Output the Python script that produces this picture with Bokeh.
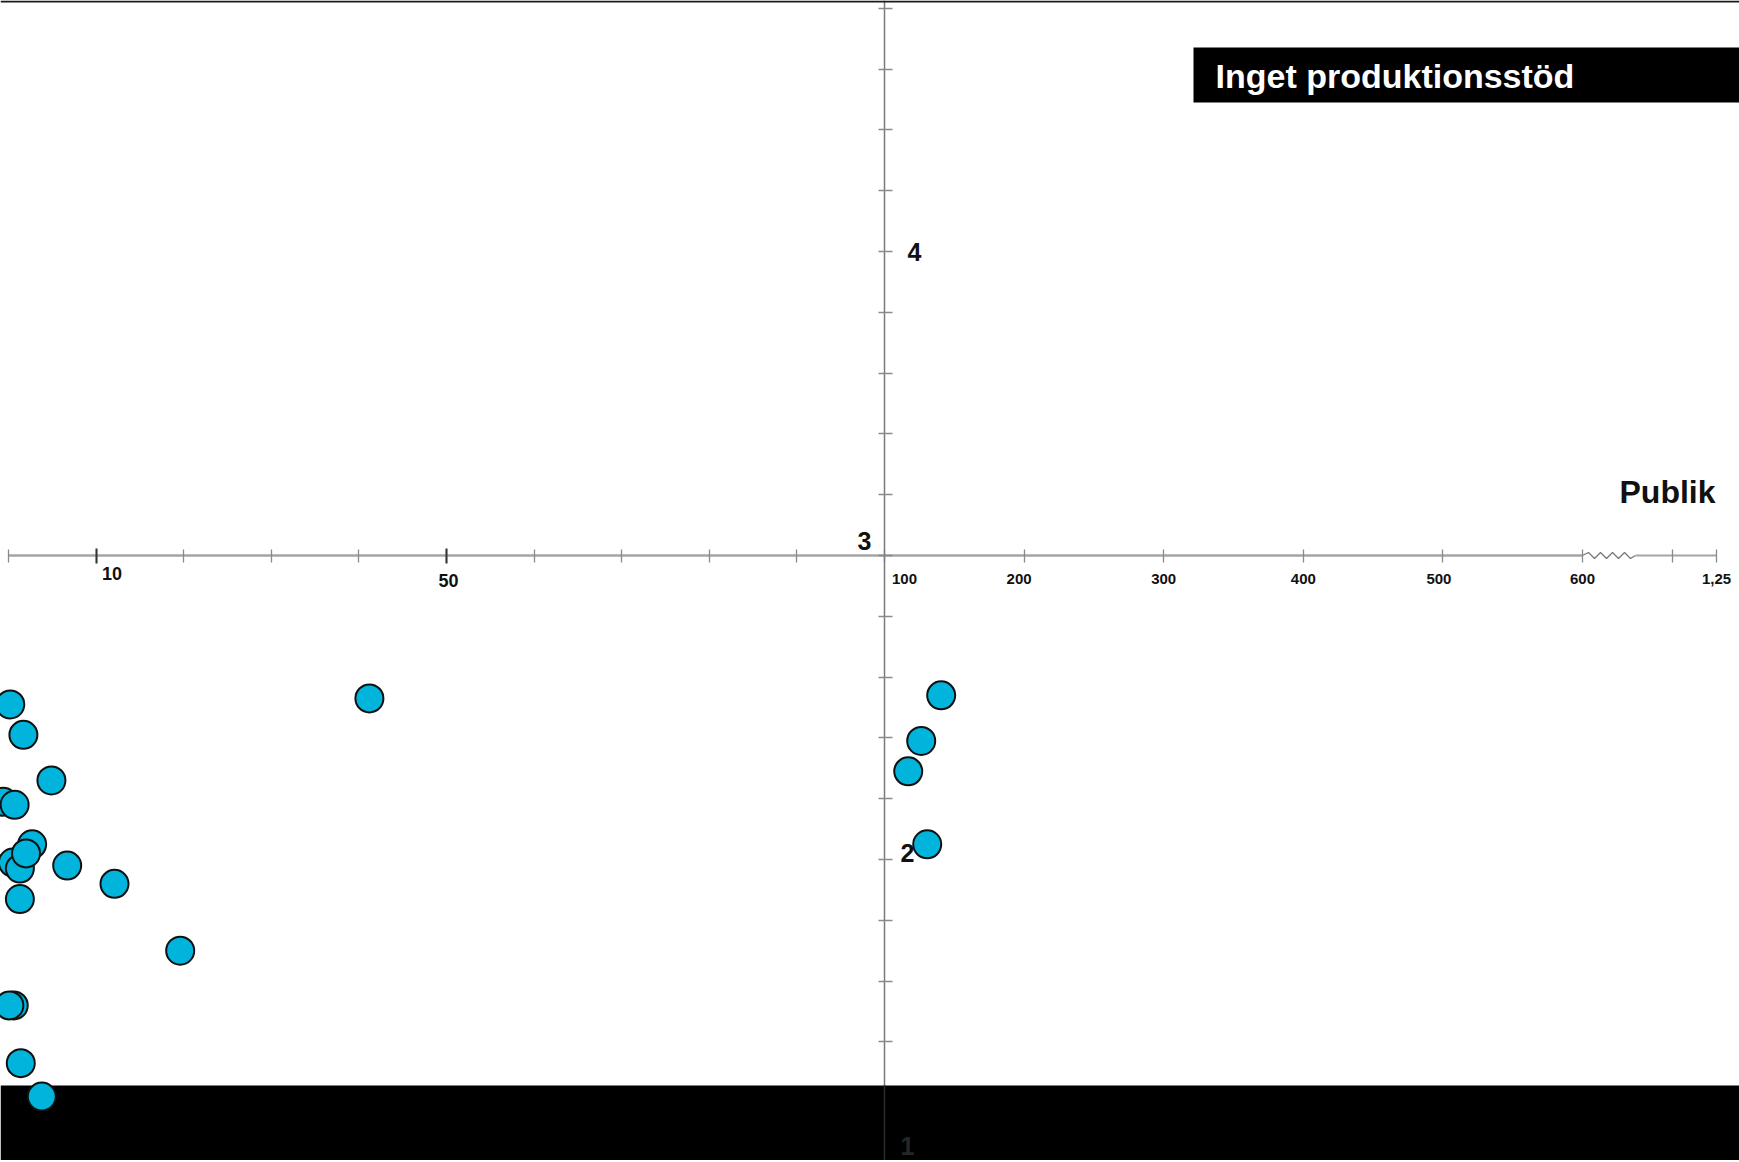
from bokeh.plotting import figure
from bokeh.models import (ColumnDataSource, LinearAxis, FixedTicker,
                          CustomJSTickFormatter, BoxAnnotation, Label, Span)
from bokeh.core.properties import value
from bokeh.embed import file_html
from bokeh.resources import INLINE

# ---------------- data (publik in thousands, betyg = score) ----------------
publik = [0.2, 1.7, 4.9, -0.6, 0.7, 2.7, 0.5, 1.3, 2.0, 6.7, 12.1, 1.3,
          19.6, 0.6, 0.1, 1.4, 3.8, 41.2, 140.6, 126.3, 117.0, 130.6]
betyg = [2.51, 2.41, 2.26, 2.19, 2.18, 2.05, 1.99, 1.97, 2.02, 1.98, 1.92, 1.87,
         1.70, 1.52, 1.52, 1.33, 1.22, 2.53, 2.54, 2.39, 2.29, 2.05]

x_ticks_left = [0, 10, 20, 30, 40, 50, 60, 70, 80, 90, 100]
x_ticks_right = [200, 300, 400, 500, 600]
x_ticks_far = [1000, 1250]
x_ticks_major = [10, 50]
x_label_vals = [10, 50, 100, 200, 300, 400, 500, 600, 1250]
x_label_text = ["10", "50", "100", "200", "300", "400", "500", "600", "1,25"]
y_ticks = [1.0, 1.2, 1.4, 1.6, 1.8, 2.0, 2.2, 2.4, 2.6, 2.8, 3.0,
           3.2, 3.4, 3.6, 3.8, 4.0, 4.2, 4.4, 4.6, 4.8]
y_label_vals = [4, 3, 2]
y_label_text = ["4", "3", "2"]
hidden_label_val, hidden_label_text = 1, "1"
title_text = "Inget produktionsstöd"
axis_title = "Publik"

# ---------------- layout / scale helpers ----------------
W, H = 1739, 1160
X0_PX = 8                      # pixel where publik = 0 sits
PX_LEFT, PX_MID, PX_FAR, BREAK_GAP = 8.76, 1.396, 0.176, 90
PX_Y, Y3_PX = 304.0, 555.0
FONT_NAME = "Liberation Sans"
FONT = value(FONT_NAME)


def xmap(v):
    if v <= 100:
        return v * PX_LEFT
    if v <= 600:
        return 100 * PX_LEFT + (v - 100) * PX_MID
    return xmap(600) + BREAK_GAP + (v - 1000) * PX_FAR


def ypx(py):
    return 3 - (py - Y3_PX) / PX_Y


p = figure(width=W, height=H, x_range=(-X0_PX, W - X0_PX), y_range=(ypx(H), ypx(0)),
           x_axis_type=None, y_axis_type=None, output_backend="svg",
           toolbar_location=None, min_border=0)
p.outline_line_color = None
p.background_fill_color = "white"
p.border_fill_color = "white"

blank = CustomJSTickFormatter(code="return ''")

# horizontal axis (0 .. 600)
xa = LinearAxis(fixed_location=3, bounds=(xmap(0), xmap(600)),
                ticker=FixedTicker(ticks=[xmap(v) for v in x_ticks_left + x_ticks_right]),
                formatter=blank, axis_line_color="#a5a5a5", axis_line_width=2.5,
                major_tick_line_color="#8a8a8a", major_tick_line_width=1.3,
                major_tick_in=6, major_tick_out=7, minor_tick_line_color=None)
p.add_layout(xa, "below")
xa2 = LinearAxis(fixed_location=3, bounds=(xmap(600) + 53, xmap(1250)),
                 ticker=FixedTicker(ticks=[xmap(v) for v in x_ticks_far]),
                 formatter=blank, axis_line_color="#a5a5a5", axis_line_width=2,
                 major_tick_line_color="#8a8a8a", major_tick_line_width=1.3,
                 major_tick_in=6, major_tick_out=7, minor_tick_line_color=None)
p.add_layout(xa2, "below")
xa3 = LinearAxis(fixed_location=3, axis_line_color=None,
                 ticker=FixedTicker(ticks=[xmap(v) for v in x_ticks_major]),
                 formatter=blank, major_tick_line_color="#333333", major_tick_line_width=2,
                 major_tick_in=7, major_tick_out=8, minor_tick_line_color=None)
p.add_layout(xa3, "below")

# zigzag break between 600 and 1000
zz_dx = [0, 6, 12, 18, 24, 30, 36, 42, 48, 53]
zz_dy = [0, 3, -3, 3, -3, 3, -3, 3, -3, 0]
p.line([xmap(600) + d for d in zz_dx], [3 + d / PX_Y for d in zz_dy],
       line_color="#777777", line_width=1.3)

# vertical axis at publik = 100
ya = LinearAxis(fixed_location=xmap(100), ticker=FixedTicker(ticks=y_ticks),
                formatter=blank, axis_line_color="#7a7a7a", axis_line_width=1.5,
                major_tick_line_color="#8a8a8a", major_tick_line_width=1.5,
                major_tick_in=8, major_tick_out=6, minor_tick_line_color=None)
p.add_layout(ya, "left")

# thin dark rule at the very top
p.add_layout(Span(location=ypx(1), dimension="width", line_color="#1a1a1a",
                  line_width=2))

# tick labels
x_dx = [16, 2, 20, -5, 0, 0, -4, 0, 0]
x_dy = [18, 25, 23, 23, 23, 23, 23, 23, 23]
x_fs = ["18px", "18px", "15px", "15px", "15px", "15px", "15px", "15px", "15px"]
for v, t, dx, dy, fs in zip(x_label_vals, x_label_text, x_dx, x_dy, x_fs):
    p.text(x=[xmap(v)], y=[3], text=[t], x_offset=dx, y_offset=dy,
           text_font=FONT, text_font_style="bold", text_font_size=fs,
           text_color="#111111", text_align="center", text_baseline="middle")

y_dx = [30, -20, 23]
y_dy = [0, -15, -7]
for v, t, dx, dy in zip(y_label_vals, y_label_text, y_dx, y_dy):
    p.text(x=[xmap(100)], y=[v], text=[t], x_offset=dx, y_offset=dy,
           text_font=FONT, text_font_style="bold", text_font_size="25px",
           text_color="#111111", text_align="center", text_baseline="middle")

p.add_layout(Label(x=1659, y=ypx(491), text=axis_title, text_font=FONT_NAME,
                   text_font_style="bold", text_font_size="32px",
                   text_color="#111111", text_align="center",
                   text_baseline="middle"))

# title box
p.add_layout(BoxAnnotation(left=1185, top=ypx(47), bottom=ypx(102),
                           fill_color="black", fill_alpha=1, line_color=None))
p.add_layout(Label(x=1207, y=ypx(75), text=title_text, text_font=FONT_NAME,
                   text_font_style="bold", text_font_size="34px",
                   text_color="white", text_align="left", text_baseline="middle"))

# black band at the bottom
p.add_layout(BoxAnnotation(top=ypx(1085), fill_color="black", fill_alpha=1,
                           line_color=None))
# faint axis line and the "1" label seen through the band
p.segment(x0=[xmap(100)], y0=[ypx(H)], x1=[xmap(100)], y1=[ypx(1085)],
          line_color="#2b2b2b", line_width=1.5, level="overlay")
p.text(x=[xmap(100)], y=[ypx(1145)], text=[hidden_label_text], x_offset=23,
       text_font=FONT, text_font_style="bold", text_font_size="25px",
       text_color="#262626", text_align="center", text_baseline="middle",
       level="overlay")

# points
src = ColumnDataSource(dict(x=[xmap(v) for v in publik], y=betyg))
p.scatter("x", "y", source=src, size=28, fill_color="#00b4dc",
          line_color="#111111", line_width=2, level="overlay")

open("out.html", "w").write(file_html(p, INLINE))
